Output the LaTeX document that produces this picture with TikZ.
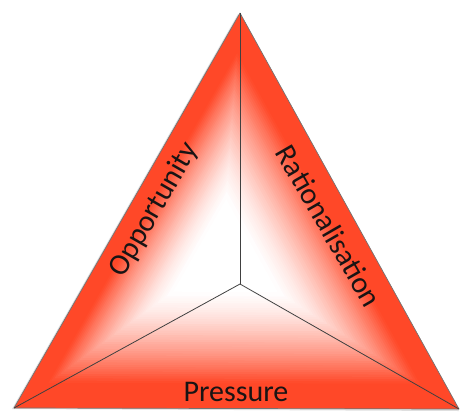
\documentclass[tikz,border=0pt]{standalone}
\usepackage{fontspec}
\setmainfont{Carlito}
\usetikzlibrary{calc}
\definecolor{edgered}{RGB}{255,72,40}
\definecolor{txt}{RGB}{25,20,20}
\tikzset{
  lbl/.style={text=txt, font=\fontsize{30}{32}\selectfont, inner sep=0pt},
  divider/.style={draw=black!75, line width=0.8pt},
  rim/.style={draw=black!55, line width=0.7pt, line join=round}
}
\begin{document}
\begin{tikzpicture}[x=1pt,y=-1pt]
\useasboundingbox (0,0) rectangle (461,416);
\coordinate (A) at (240,13);
\coordinate (B) at (14,408);
\coordinate (C) at (459,409);
\coordinate (O) at (240,284);
\coordinate (G) at (222,256);
% soft shadow
\fill[black!25, opacity=0.5] ($(A)+(-2,1)$) -- ($(B)+(-2,1)$) -- ($(C)+(0,2)$) -- cycle;
\fill[edgered] (A) -- (B) -- (C) -- cycle;
\foreach \k in {1,...,62}{
  \pgfmathsetmacro\ss{1-0.015*\k}
  \pgfmathtruncatemacro\tt{100*(max(0.001,min(1,(\ss-0.22)/0.62)))^1.5}
  \fill[edgered!\tt!white] ($(G)!\ss!(A)$) -- ($(G)!\ss!(B)$) -- ($(G)!\ss!(C)$) -- cycle;
}
\draw[rim] (A) -- (B) -- (C) -- cycle;
\draw[divider] (O) -- (A);
\draw[divider] (O) -- (B);
\draw[divider] (O) -- (C);
\node[lbl, rotate=60] (opp) at (154,210) {Opportunity};
\node[lbl, rotate=-60] (rat) at (329,226) {Rationalisation};
\node[lbl] (pre) at (236,392) {Pressure};
\end{tikzpicture}
\end{document}
